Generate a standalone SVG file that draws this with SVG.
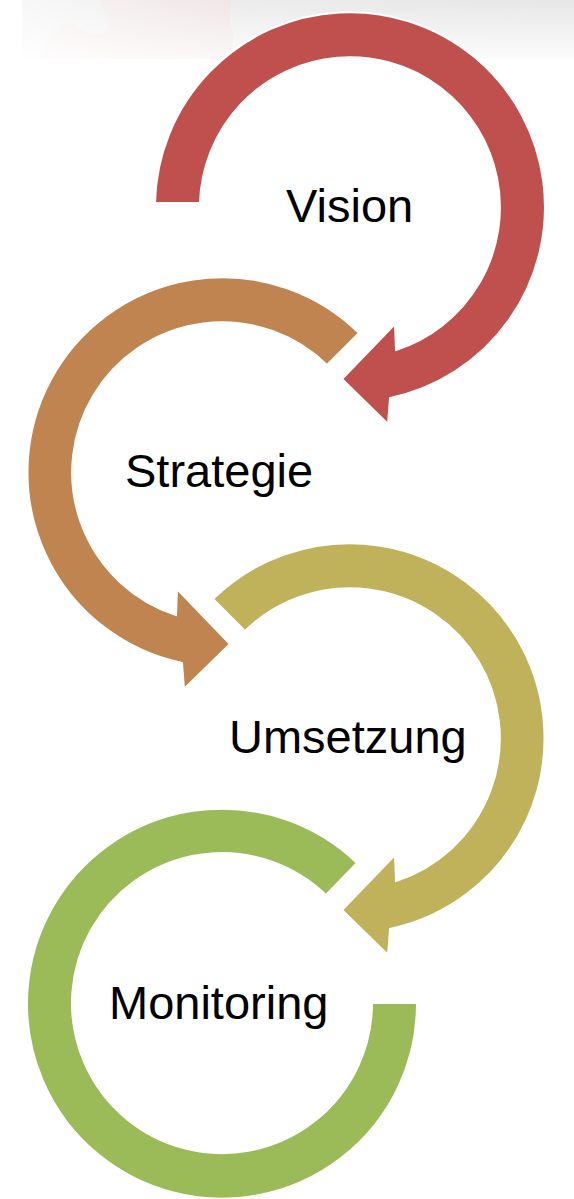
<svg xmlns="http://www.w3.org/2000/svg" width="574" height="1199" viewBox="0 0 574 1199">
  <style>
    .lbl { font-family: "Liberation Sans", Arial, sans-serif; font-size: 47px; fill: #000; }
    .arc { stroke: #ffffff; stroke-width: 2; stroke-linejoin: miter; }
  </style>
  <defs>
    <linearGradient id="bannerV" x1="0" y1="0" x2="0" y2="1">
      <stop offset="0" stop-color="#e6e6e6"/>
      <stop offset="0.6" stop-color="#f3f3f3"/>
      <stop offset="1" stop-color="#fcfcfc"/>
    </linearGradient>
    <linearGradient id="bannerFade" x1="0" y1="0" x2="1" y2="0">
      <stop offset="0" stop-color="#ffffff" stop-opacity="0.7"/>
      <stop offset="0.4" stop-color="#ffffff" stop-opacity="0.2"/>
      <stop offset="1" stop-color="#ffffff" stop-opacity="0"/>
    </linearGradient>
    <linearGradient id="pink" x1="0" y1="0" x2="0" y2="1">
      <stop offset="0" stop-color="#f0d6d6"/>
      <stop offset="1" stop-color="#faf0f0"/>
    </linearGradient>
    <path id="redShape" d="M -195,-4 A 195 195 0 1 1 40,191 L 38,217 L -8,172 L 45,117 L 46,143 A 150 150 0 1 0 -150,-4 Z"/>
    <path id="olvShape" d="M -137,-139 A 195 195 0 1 1 40,191 L 38,217 L -8,172 L 45,117 L 46,143 A 150 150 0 1 0 -105,-107 Z"/>
  </defs>

  <g id="background">
    <rect x="22" y="0" width="552" height="59" fill="url(#bannerV)"/>
    <path d="M 40,59 C 42,45 50,30 60,25 C 68,22 75,22 80,28 C 85,34 92,36 100,33 C 108,30 110,22 106,15 C 100,6 100,0 100,0 L 230,0 C 232,10 228,20 232,30 C 236,42 230,52 226,59 Z" fill="url(#pink)" opacity="0.5"/>
    <rect x="22" y="0" width="552" height="59" fill="url(#bannerFade)"/>
  </g>

  <g id="connectors">
    <use href="#redShape" class="arc" fill="#C0504D" transform="translate(350,207)"/>
    <use href="#olvShape" class="arc" fill="#C08450" transform="translate(222,472) scale(-1,1)"/>
    <use href="#olvShape" class="arc" fill="#BFB25A" transform="translate(350,738)"/>
    <path class="arc" fill="#9BBB59" transform="translate(222,1003)" d="M 135,-140 A 195 195 0 1 0 195,0 L 150,0 A 150 150 0 1 1 104,-108 Z"/>
  </g>

  <g id="node-vision">
    <text class="lbl" x="286" y="222">Vision</text>
  </g>
  <g id="node-strategie">
    <text class="lbl" x="125" y="487">Strategie</text>
  </g>
  <g id="node-umsetzung">
    <text class="lbl" x="229" y="753">Umsetzung</text>
  </g>
  <g id="node-monitoring">
    <text class="lbl" x="109" y="1019">Monitoring</text>
  </g>
</svg>
